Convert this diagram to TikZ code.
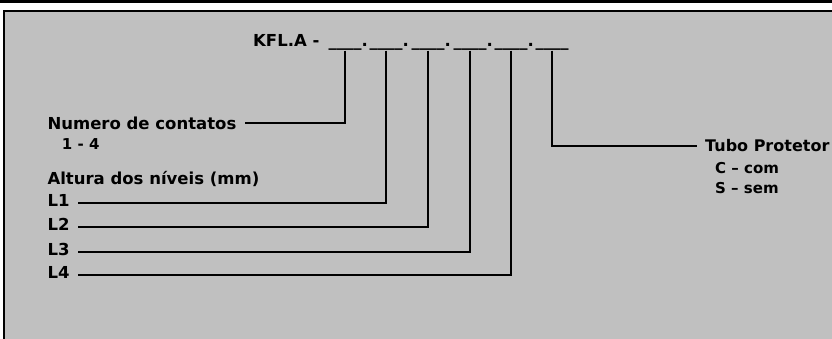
\documentclass[tikz,border=0pt]{standalone}
\usepackage{fontspec}
\setmainfont{DejaVu Sans}
\definecolor{panelgray}{RGB}{192,192,192}
\tikzset{
  bigtxt/.style={font=\fontsize{16.5}{18}\selectfont\bfseries},
  lab/.style={bigtxt, inner xsep=8pt, inner ysep=0pt},
  lvl/.style={lab, text height=7pt, text depth=0pt},
  plain/.style={bigtxt, inner sep=0pt},
  sub/.style={font=\fontsize{15}{17}\selectfont\bfseries, inner sep=0pt},
  lead/.style={line width=2pt},
}
\begin{document}
\begin{tikzpicture}[x=1pt,y=-1pt]
  \useasboundingbox (0,0) rectangle (832,339);
  \clip (0,0) rectangle (832,339);

  \fill[black] (0,0) rectangle (832,2.7);
  \filldraw[fill=panelgray, draw=black, line width=2pt] (4,11) rectangle (845,350);

%Code line
  \node[plain, anchor=base west] at (253,46.5) (code) {KFL.A -};

  \node[plain, anchor=base] at (345,46.5) (b1) {\_\_\_\_\rlap{.}};
  \node[plain, anchor=base] at (386,46.5) (b2) {\_\_\_\_\rlap{.}};
  \node[plain, anchor=base] at (428,46.5) (b3) {\_\_\_\_\rlap{.}};
  \node[plain, anchor=base] at (470,46.5) (b4) {\_\_\_\_\rlap{.}};
  \node[plain, anchor=base] at (511,46.5) (b5) {\_\_\_\_\rlap{.}};
  \node[plain, anchor=base] at (552,46.5) (b6) {\_\_\_\_};

%Labels on the left
  \node[lab, anchor=west] at (39.3,123) (num) {Numero de contatos};
  \node[sub, anchor=base west] at (61.7,150) (numr) {1 - 4};

  \node[plain, anchor=base west] at (47.3,184.3) (alt) {Altura dos níveis (mm)};
  \node[lvl, anchor=west] at (39.3,203) (l1) {L1};
  \node[lvl, anchor=west] at (39.3,227) (l2) {L2};
  \node[lvl, anchor=west] at (39.3,252) (l3) {L3};
  \node[lvl, anchor=west] at (39.3,275) (l4) {L4};

%Label on the right
  \node[lab, font=\fontsize{16}{18}\selectfont\bfseries, anchor=west] at (697,146) (tubo) {Tubo Protetor};
  \node[sub, anchor=base west] at (715,173.3) (com) {C – com};
  \node[sub, anchor=base west] at (715,193.3) (sem) {S – sem};

  \draw[lead] (b1.south) |- (num.east);
  \draw[lead] (b2.south) |- (l1.east);
  \draw[lead] (b3.south) |- (l2.east);
  \draw[lead] (b4.south) |- (l3.east);
  \draw[lead] (b5.south) |- (l4.east);
  \draw[lead] (b6.south) |- (tubo.west);

\end{tikzpicture}
\end{document}
